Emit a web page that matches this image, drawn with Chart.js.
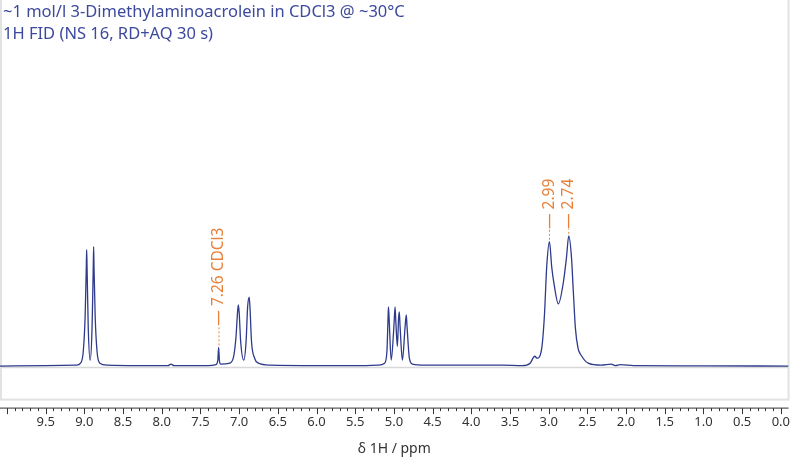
<!DOCTYPE html>
<html>
<head>
<meta charset="utf-8">
<script src="https://cdn.jsdelivr.net/npm/chart.js@4"></script>
<style>
  html, body { margin:0; padding:0; background:#fff; }
  #wrap { width:800px; height:457px; position:relative; }
</style>
</head>
<body>
<div id="wrap"><canvas id="nmr" width="800" height="457"></canvas></div>
<script>
// spectrum (ppm, intensity above baseline)
const ppm = [10.09, 9.5, 9.1, 9.05, 9.015, 8.99, 8.975, 8.97, 8.965, 8.95, 8.925, 8.90, 8.885, 8.88, 8.875, 8.86, 8.835, 8.80, 8.7,
  8.3, 7.92, 7.88, 7.84, 7.4, 7.3, 7.275, 7.265, 7.255, 7.24, 7.12, 7.07, 7.04, 7.02, 7.01, 7.0, 6.98, 6.94, 6.91, 6.89, 6.87, 6.86, 6.84, 6.8, 6.75, 6.6,
  6.0, 5.5, 5.2, 5.12, 5.09, 5.075, 5.07, 5.06, 5.035, 5.0, 4.985, 4.975, 4.955, 4.94, 4.93, 4.92, 4.89, 4.855, 4.84, 4.83, 4.80, 4.76, 4.6,
  3.6, 3.34, 3.24, 3.18, 3.15, 3.09, 3.055, 3.025, 2.99, 2.96, 2.93, 2.875, 2.81, 2.77, 2.74, 2.705, 2.683, 2.654, 2.62, 2.58, 2.49, 2.32, 2.19, 2.14, 2.07, 1.9, 1.0, -0.1];
const intensity = [0, 0.5, 1, 3, 14, 50, 100, 118, 100, 40, 6, 40, 100, 121, 100, 50, 14, 3, 1,
  0.5, 0.5, 2, 0.5, 0.5, 1.5, 6, 19, 6, 2, 3, 10, 30, 55, 62, 55, 25, 6, 25, 60, 70, 60, 25, 8, 3, 1,
  0.5, 0.5, 1, 3, 15, 50, 60, 45, 6, 40, 60, 45, 20, 48, 55, 40, 6, 40, 52, 40, 8, 2, 1,
  1, 0.5, 3, 10, 8, 18, 51, 101, 126, 100, 83, 63, 85, 110, 132, 110, 78, 38, 18, 11, 3, 1, 2, 0.5, 1.5, 0.5, 0.3, 0];

// peak labels
const markPpm = [7.26, 2.99, 2.74];
const markText = ['7.26 CDCl3', '2.99', '2.74'];
const markPeak = [19, 126, 132];
const markLevel = [41, 139, 139];

const majorTicks = [9.5, 9.0, 8.5, 8.0, 7.5, 7.0, 6.5, 6.0, 5.5, 5.0, 4.5, 4.0, 3.5, 3.0, 2.5, 2.0, 1.5, 1.0, 0.5, 0.0];
const titleLines = ['~1 mol/l 3-Dimethylaminoacrolein in CDCl3 @ ~30°C', '1H FID (NS 16, RD+AQ 30 s)'];

const ink = '#2e3a8c';
const orange = '#e8803a';

const decor = {
  id: 'decor',
  beforeDatasetsDraw(chart){
    const {ctx, chartArea:a, scales:{x, y}} = chart;
    ctx.save();
    ctx.strokeStyle = '#d8d8d8';
    ctx.lineWidth = 1.5;
    ctx.beginPath();
    ctx.moveTo(a.left, y.getPixelForValue(0) + 1.5); ctx.lineTo(a.right, y.getPixelForValue(0) + 1.5);
    ctx.stroke();
    ctx.strokeStyle = '#e2e2e2';
    ctx.lineWidth = 2;
    ctx.strokeRect(a.left + 1, -2, a.right - a.left - 1, a.bottom - 3);
    ctx.restore();
  },
  afterDraw(chart){
    const {ctx, chartArea:a, scales:{x, y}} = chart;
    ctx.save();
    // axis ticks
    ctx.strokeStyle = '#333';
    ctx.lineWidth = 1;
    ctx.beginPath();
    ctx.moveTo(a.left, a.bottom + 3.5); ctx.lineTo(a.right, a.bottom + 3.5);
    for(let i = 0; i <= 100; i++){
      const v = i / 10;
      const px = Math.round(x.getPixelForValue(v)) + 0.5;
      if(px < a.left || px > a.right) continue;
      const len = (i % 5 === 0) ? 6 : 3;
      ctx.moveTo(px, a.bottom + 3.5); ctx.lineTo(px, a.bottom + 3.5 + len);
    }
    ctx.stroke();
    // title
    ctx.fillStyle = '#3d4a9c';
    ctx.font = '16.5px "Noto Sans"';
    ctx.textBaseline = 'middle';
    titleLines.forEach((t, i) => ctx.fillText(t, 3, 12 + i * 22));
    // peak labels
    ctx.strokeStyle = orange;
    ctx.fillStyle = orange;
    ctx.font = '15.5px "Noto Sans"';
    markPpm.forEach((p, i) => {
      const px = x.getPixelForValue(p);
      const top = y.getPixelForValue(markPeak[i]) - 2;
      const lvl = y.getPixelForValue(markLevel[i]);
      ctx.setLineDash([2, 2]);
      ctx.beginPath(); ctx.moveTo(px, top); ctx.lineTo(px, lvl); ctx.stroke();
      ctx.setLineDash([]);
      ctx.save();
      ctx.translate(px, lvl);
      ctx.rotate(-Math.PI / 2);
      ctx.textBaseline = 'middle';
      ctx.fillText('— ' + markText[i], 0, 0);
      ctx.restore();
    });
    ctx.restore();
  }
};

new Chart(document.getElementById('nmr'), {
  type: 'line',
  data: {
    datasets: [{
      data: ppm.map((p, i) => ({x: p, y: intensity[i]})),
      borderColor: ink,
      borderWidth: 1.3,
      pointRadius: 0,
      cubicInterpolationMode: 'monotone',
      fill: false
    }]
  },
  options: {
    responsive: false,
    animation: false,
    layout: { padding: { left: 0, right: -8, top: 0, bottom: 0 } },
    plugins: { legend: { display: false }, tooltip: { enabled: false } },
    scales: {
      x: {
        type: 'linear', reverse: true, min: -0.10, max: 10.09,
        afterBuildTicks: s => { s.ticks = majorTicks.map(v => ({value: v})); },
        ticks: { color: '#333', font: { size: 13, family: '"Noto Sans"' }, padding: 10, maxRotation: 0,
          callback: v => v.toFixed(1) },
        grid: { display: false, drawTicks: false },
        border: { display: false },
        title: { display: true, text: 'δ 1H / ppm', color: '#333', font: { size: 14, family: '"Noto Sans"' }, padding: { top: 0, bottom: 0 } }
      },
      y: { display: false, min: -39, max: 371 }
    }
  },
  plugins: [decor]
});
</script>
</body>
</html>
